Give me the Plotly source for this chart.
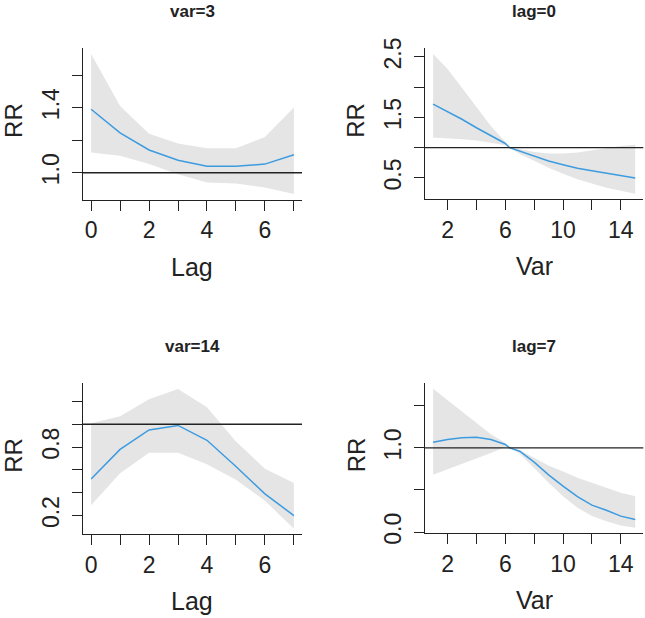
import plotly.graph_objects as go

# lag-response at var=3
lag = [0, 1, 2, 3, 4, 5, 6, 7]
rr_var3 = [1.39, 1.245, 1.14, 1.077, 1.04, 1.04, 1.053, 1.11]
hi_var3 = [1.73, 1.41, 1.24, 1.18, 1.15, 1.15, 1.22, 1.40]
lo_var3 = [1.125, 1.105, 1.054, 0.99, 0.94, 0.934, 0.91, 0.87]

# lag-response at var=14
rr_var14 = [0.52, 0.78, 0.95, 0.99, 0.86, 0.63, 0.39, 0.20]
hi_var14 = [1.01, 1.07, 1.22, 1.31, 1.15, 0.85, 0.61, 0.485]
lo_var14 = [0.29, 0.57, 0.75, 0.75, 0.65, 0.515, 0.33, 0.085]

# exposure-response at lag=0 and lag=7
var = [1, 2, 3, 4, 5, 6, 6.3, 7, 8, 9, 10, 11, 12, 13, 14, 15]
rr_lag0 = [1.72, 1.60, 1.47, 1.33, 1.20, 1.07, 1.0, 0.94, 0.86, 0.78, 0.72, 0.66, 0.62, 0.58, 0.54, 0.50]
hi_lag0 = [2.55, 2.30, 1.99, 1.67, 1.36, 1.10, 1.0, 0.98, 0.93, 0.905, 0.905, 0.92, 0.96, 1.0, 1.03, 1.05]
lo_lag0 = [1.17, 1.16, 1.14, 1.12, 1.08, 1.04, 1.0, 0.895, 0.785, 0.67, 0.57, 0.48, 0.41, 0.34, 0.29, 0.24]

rr_lag7 = [1.066, 1.10, 1.12, 1.125, 1.10, 1.04, 1.0, 0.96, 0.83, 0.68, 0.545, 0.42, 0.32, 0.26, 0.19, 0.15]
hi_lag7 = [1.70, 1.565, 1.43, 1.29, 1.16, 1.06, 1.0, 0.975, 0.88, 0.79, 0.72, 0.645, 0.585, 0.526, 0.467, 0.427]
lo_lag7 = [0.68, 0.745, 0.81, 0.875, 0.94, 1.01, 1.0, 0.93, 0.76, 0.585, 0.427, 0.29, 0.19, 0.13, 0.08, 0.052]

lag_ticks = [0, 1, 2, 3, 4, 5, 6, 7]
lag_labels = ["0", "", "2", "", "4", "", "6", ""]
var_ticks = [2, 4, 6, 8, 10, 12, 14]
var_labels = ["2", "", "6", "", "10", "", "14"]

W, H = 645, 618
FONT = "Liberation Sans, Arial, sans-serif"
INK = "#222222"
BLUE = "#3d9be0"
GREY = "#e5e5e5"


def pad(lo, hi):
    # R style 4% axis extension
    d = (hi - lo) * 0.04
    return [lo - d, hi + d]


panels = [
    dict(x=lag, rr=rr_var3, hi=hi_var3, lo=lo_var3, title="var=3", xlab="Lag",
         xt=lag_ticks, xl=lag_labels,
         yt=[1.0, 1.2, 1.4, 1.6], yl=["1.0", "", "1.4", ""],
         px=(83, 302), py=(48.3, 199.5)),
    dict(x=var, rr=rr_lag0, hi=hi_lag0, lo=lo_lag0, title="lag=0", xlab="Var",
         xt=var_ticks, xl=var_labels,
         yt=[0.5, 1.0, 1.5, 2.0, 2.5], yl=["0.5", "", "1.5", "", "2.5"],
         px=(425, 643.3), py=(48.3, 199.3)),
    dict(x=lag, rr=rr_var14, hi=hi_var14, lo=lo_var14, title="var=14", xlab="Lag",
         xt=lag_ticks, xl=lag_labels,
         yt=[0.2, 0.4, 0.6, 0.8, 1.0, 1.2], yl=["0.2", "", "", "0.8", "", ""],
         px=(83, 302), py=(383.3, 534.3)),
    dict(x=var, rr=rr_lag7, hi=hi_lag7, lo=lo_lag7, title="lag=7", xlab="Var",
         xt=var_ticks, xl=var_labels,
         yt=[0.0, 0.5, 1.0, 1.5], yl=["0.0", "", "1.0", ""],
         px=(425, 643.3), py=(383.3, 533.3)),
]

fig = go.Figure()
layout = {}
annotations = []
shapes = []

for i, p in enumerate(panels, start=1):
    xa = "x" if i == 1 else f"x{i}"
    ya = "y" if i == 1 else f"y{i}"

    # confidence band
    fig.add_trace(go.Scatter(
        x=p["x"] + p["x"][::-1], y=p["hi"] + p["lo"][::-1],
        fill="toself", fillcolor=GREY, line=dict(width=0),
        mode="lines", hoverinfo="skip", showlegend=False,
        xaxis=xa, yaxis=ya))
    # estimated RR
    fig.add_trace(go.Scatter(
        x=p["x"], y=p["rr"], mode="lines",
        line=dict(color=BLUE, width=1.5), showlegend=False,
        xaxis=xa, yaxis=ya))

    x0, x1 = p["px"]
    y0, y1 = p["py"]
    axis_common = dict(
        showgrid=False, zeroline=False, showline=True, linecolor=INK, linewidth=1.3,
        ticks="outside", ticklen=10, tickwidth=1.3, tickcolor=INK, automargin=False,
        tickfont=dict(family=FONT, size=23, color=INK), fixedrange=True)

    layout["xaxis" if i == 1 else f"xaxis{i}"] = dict(
        axis_common, domain=[x0 / W, x1 / W], anchor=ya,
        range=pad(min(p["x"]), max(p["x"])),
        tickmode="array", tickvals=p["xt"], ticktext=p["xl"], ticklabelstandoff=0)
    layout["yaxis" if i == 1 else f"yaxis{i}"] = dict(
        axis_common, domain=[1 - y1 / H, 1 - y0 / H], anchor=xa,
        range=pad(min(p["lo"]), max(p["hi"])),
        tickmode="array", tickvals=p["yt"], ticktext=p["yl"], tickangle=-90,
        ticklabelstandoff=4)

    # reference line at RR = 1
    shapes.append(dict(type="line", xref=f"{xa} domain", yref=ya,
                       x0=0, x1=1, y0=1, y1=1,
                       line=dict(color=INK, width=1.3)))

    cx = (x0 + x1) / 2 / W
    annotations.append(dict(text=f"<b>{p['title']}</b>", x=cx, y=1 - (y0 - 37) / H,
                            xref="paper", yref="paper", showarrow=False,
                            xanchor="center", yanchor="middle",
                            font=dict(family=FONT, size=17, color=INK)))
    annotations.append(dict(text=p["xlab"], x=cx, y=1 - (y1 + 67) / H,
                            xref="paper", yref="paper", showarrow=False,
                            xanchor="center", yanchor="middle",
                            font=dict(family=FONT, size=25, color=INK)))
    annotations.append(dict(text="RR", x=(x0 - 69) / W, y=1 - ((y0 + y1) / 2 - 3) / H,
                            xref="paper", yref="paper", showarrow=False,
                            xanchor="center", yanchor="middle", textangle=-90,
                            font=dict(family=FONT, size=24, color=INK)))

fig.update_layout(
    width=W, height=H,
    margin=dict(l=0, r=0, t=0, b=0),
    paper_bgcolor="white", plot_bgcolor="white",
    showlegend=False,
    annotations=annotations, shapes=shapes,
    **layout)

# drop the browser's default body margin so the figure sits at the page origin
fig.write_html("out.html", config={"displayModeBar": False},
               post_script="document.body.style.margin='0px';")
